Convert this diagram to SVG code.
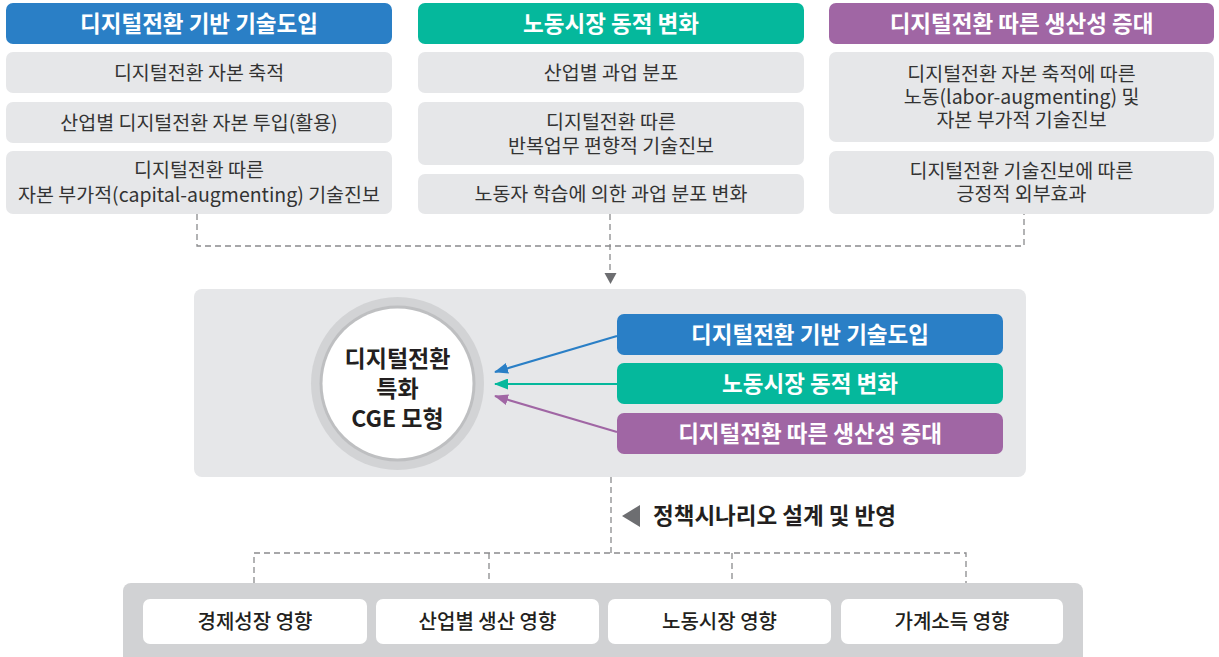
<svg xmlns="http://www.w3.org/2000/svg" width="1219" height="657" viewBox="0 0 1219 657">
<style>
text{font-family:"Noto Sans CJK KR","Noto Sans",sans-serif;text-anchor:middle}
.hd{font-size:22.5px;font-weight:bold;fill:#ffffff}
.bx{fill:#e6e7e9}
.bt{font-size:19.5px;fill:#333333}
.ct{font-size:23px;font-weight:bold;fill:#231f20}
.ot{font-size:20px;font-weight:500;fill:#231f20}
.dash{fill:none;stroke:#8a8b8d;stroke-width:1.3;stroke-dasharray:6 4}
</style>
<defs>
<marker id="mb" viewBox="0 0 14 11" refX="13" refY="5.5" markerWidth="14" markerHeight="11" markerUnits="userSpaceOnUse" orient="auto"><path d="M0,0 L14,5.5 L0,11 Z" fill="#2a7fc6"/></marker>
<marker id="mg" viewBox="0 0 14 11" refX="13" refY="5.5" markerWidth="14" markerHeight="11" markerUnits="userSpaceOnUse" orient="auto"><path d="M0,0 L14,5.5 L0,11 Z" fill="#05b89c"/></marker>
<marker id="mp" viewBox="0 0 14 11" refX="13" refY="5.5" markerWidth="14" markerHeight="11" markerUnits="userSpaceOnUse" orient="auto"><path d="M0,0 L14,5.5 L0,11 Z" fill="#a066a4"/></marker>
</defs>

<!-- column 1 -->
<g id="col1-header"><rect x="6" y="3" width="386" height="41" rx="7" fill="#2a7fc6"/><text class="hd" x="199" y="31.5">디지털전환 기반 기술도입</text></g>
<g id="col1-item1"><rect class="bx" x="6" y="52" width="386" height="41" rx="7"/><text class="bt" x="199" y="79.5">디지털전환 자본 축적</text></g>
<g id="col1-item2"><rect class="bx" x="6" y="102" width="386" height="41" rx="7"/><text class="bt" x="199" y="129.5">산업별 디지털전환 자본 투입(활용)</text></g>
<g id="col1-item3"><rect class="bx" x="6" y="151" width="386" height="63" rx="7"/><text class="bt" x="199" y="177">디지털전환 따른</text><text class="bt" x="199" y="202">자본 부가적(capital-augmenting) 기술진보</text></g>

<!-- column 2 -->
<g id="col2-header"><rect x="418" y="3" width="386" height="41" rx="7" fill="#05b89c"/><text class="hd" x="611" y="31.5">노동시장 동적 변화</text></g>
<g id="col2-item1"><rect class="bx" x="418" y="52" width="386" height="41" rx="7"/><text class="bt" x="611" y="79.5">산업별 과업 분포</text></g>
<g id="col2-item2"><rect class="bx" x="418" y="102" width="386" height="63" rx="7"/><text class="bt" x="611" y="128.5">디지털전환 따른</text><text class="bt" x="611" y="152.5">반복업무 편향적 기술진보</text></g>
<g id="col2-item3"><rect class="bx" x="418" y="174" width="386" height="40" rx="7"/><text class="bt" x="611" y="200.5">노동자 학습에 의한 과업 분포 변화</text></g>

<!-- column 3 -->
<g id="col3-header"><rect x="829" y="3" width="385" height="41" rx="7" fill="#a066a4"/><text class="hd" x="1021.5" y="31.5">디지털전환 따른 생산성 증대</text></g>
<g id="col3-item1"><rect class="bx" x="829" y="52" width="385" height="90" rx="7"/><text class="bt" x="1021.5" y="81">디지털전환 자본 축적에 따른</text><text class="bt" x="1021.5" y="104">노동(labor-augmenting) 및</text><text class="bt" x="1021.5" y="127">자본 부가적 기술진보</text></g>
<g id="col3-item2"><rect class="bx" x="829" y="151" width="385" height="63" rx="7"/><text class="bt" x="1021.5" y="178">디지털전환 기술진보에 따른</text><text class="bt" x="1021.5" y="201">긍정적 외부효과</text></g>

<!-- middle panel -->
<g id="model-panel"><rect x="194" y="289" width="832" height="188" rx="8" fill="#e6e7e9"/></g>
<g id="cge-model">
<circle cx="397.5" cy="383.5" r="86.5" fill="#d2d3d5"/>
<circle cx="397.5" cy="383.5" r="78" fill="#bebfc1"/>
<circle cx="397.5" cy="383.5" r="75" fill="#ffffff"/>
<text class="ct" x="397.5" y="367">디지털전환</text>
<text class="ct" x="397.5" y="397">특화</text>
<text class="ct" x="397.5" y="427">CGE 모형</text>
</g>
<g id="in-tech"><rect x="617" y="314" width="386" height="41" rx="7" fill="#2a7fc6"/><text class="hd" x="810" y="342.5">디지털전환 기반 기술도입</text></g>
<g id="in-labor"><rect x="617" y="363" width="386" height="41" rx="7" fill="#05b89c"/><text class="hd" x="810" y="391.5">노동시장 동적 변화</text></g>
<g id="in-prod"><rect x="617" y="413" width="386" height="41" rx="7" fill="#a066a4"/><text class="hd" x="810" y="441.5">디지털전환 따른 생산성 증대</text></g>

<!-- bottom panel -->
<g id="outcome-panel"><rect x="123" y="583" width="960" height="90" rx="8" fill="#d1d2d4"/></g>
<g id="out1"><rect x="143" y="599" width="224" height="45" rx="7" fill="#ffffff"/><text class="ot" x="255" y="628.5">경제성장 영향</text></g>
<g id="out2"><rect x="376" y="599" width="223" height="45" rx="7" fill="#ffffff"/><text class="ot" x="487.5" y="628.5">산업별 생산 영향</text></g>
<g id="out3"><rect x="608" y="599" width="223" height="45" rx="7" fill="#ffffff"/><text class="ot" x="719.5" y="628.5">노동시장 영향</text></g>
<g id="out4"><rect x="841" y="599" width="222" height="45" rx="7" fill="#ffffff"/><text class="ot" x="952" y="628.5">가계소득 영향</text></g>

<g id="policy-label">
<polygon points="640,505 640,527 622,516" fill="#6d6e71"/>
<text x="653" y="524" style="font-size:22.5px;font-weight:bold;fill:#231f20;text-anchor:start">정책시나리오 설계 및 반영</text>
</g>

<!-- connectors -->
<g id="connectors">
<path class="dash" d="M197,214 V246 H1024 V214"/>
<path class="dash" d="M610,214 V273"/>
<polygon points="604.5,273 616.5,273 610.5,284" fill="#6d6e71"/>
<path class="dash" d="M611,477 V553"/>
<path class="dash" d="M254,583 V553 H966 V583"/>
<path class="dash" d="M489,553 V583"/>
<path class="dash" d="M732,553 V583"/>
<line x1="617" y1="336" x2="495" y2="372" stroke="#2a7fc6" stroke-width="2.2" marker-end="url(#mb)"/>
<line x1="617" y1="384" x2="495" y2="384" stroke="#05b89c" stroke-width="2.2" marker-end="url(#mg)"/>
<line x1="617" y1="432" x2="495" y2="396" stroke="#a066a4" stroke-width="2.2" marker-end="url(#mp)"/>
</g>
</svg>
